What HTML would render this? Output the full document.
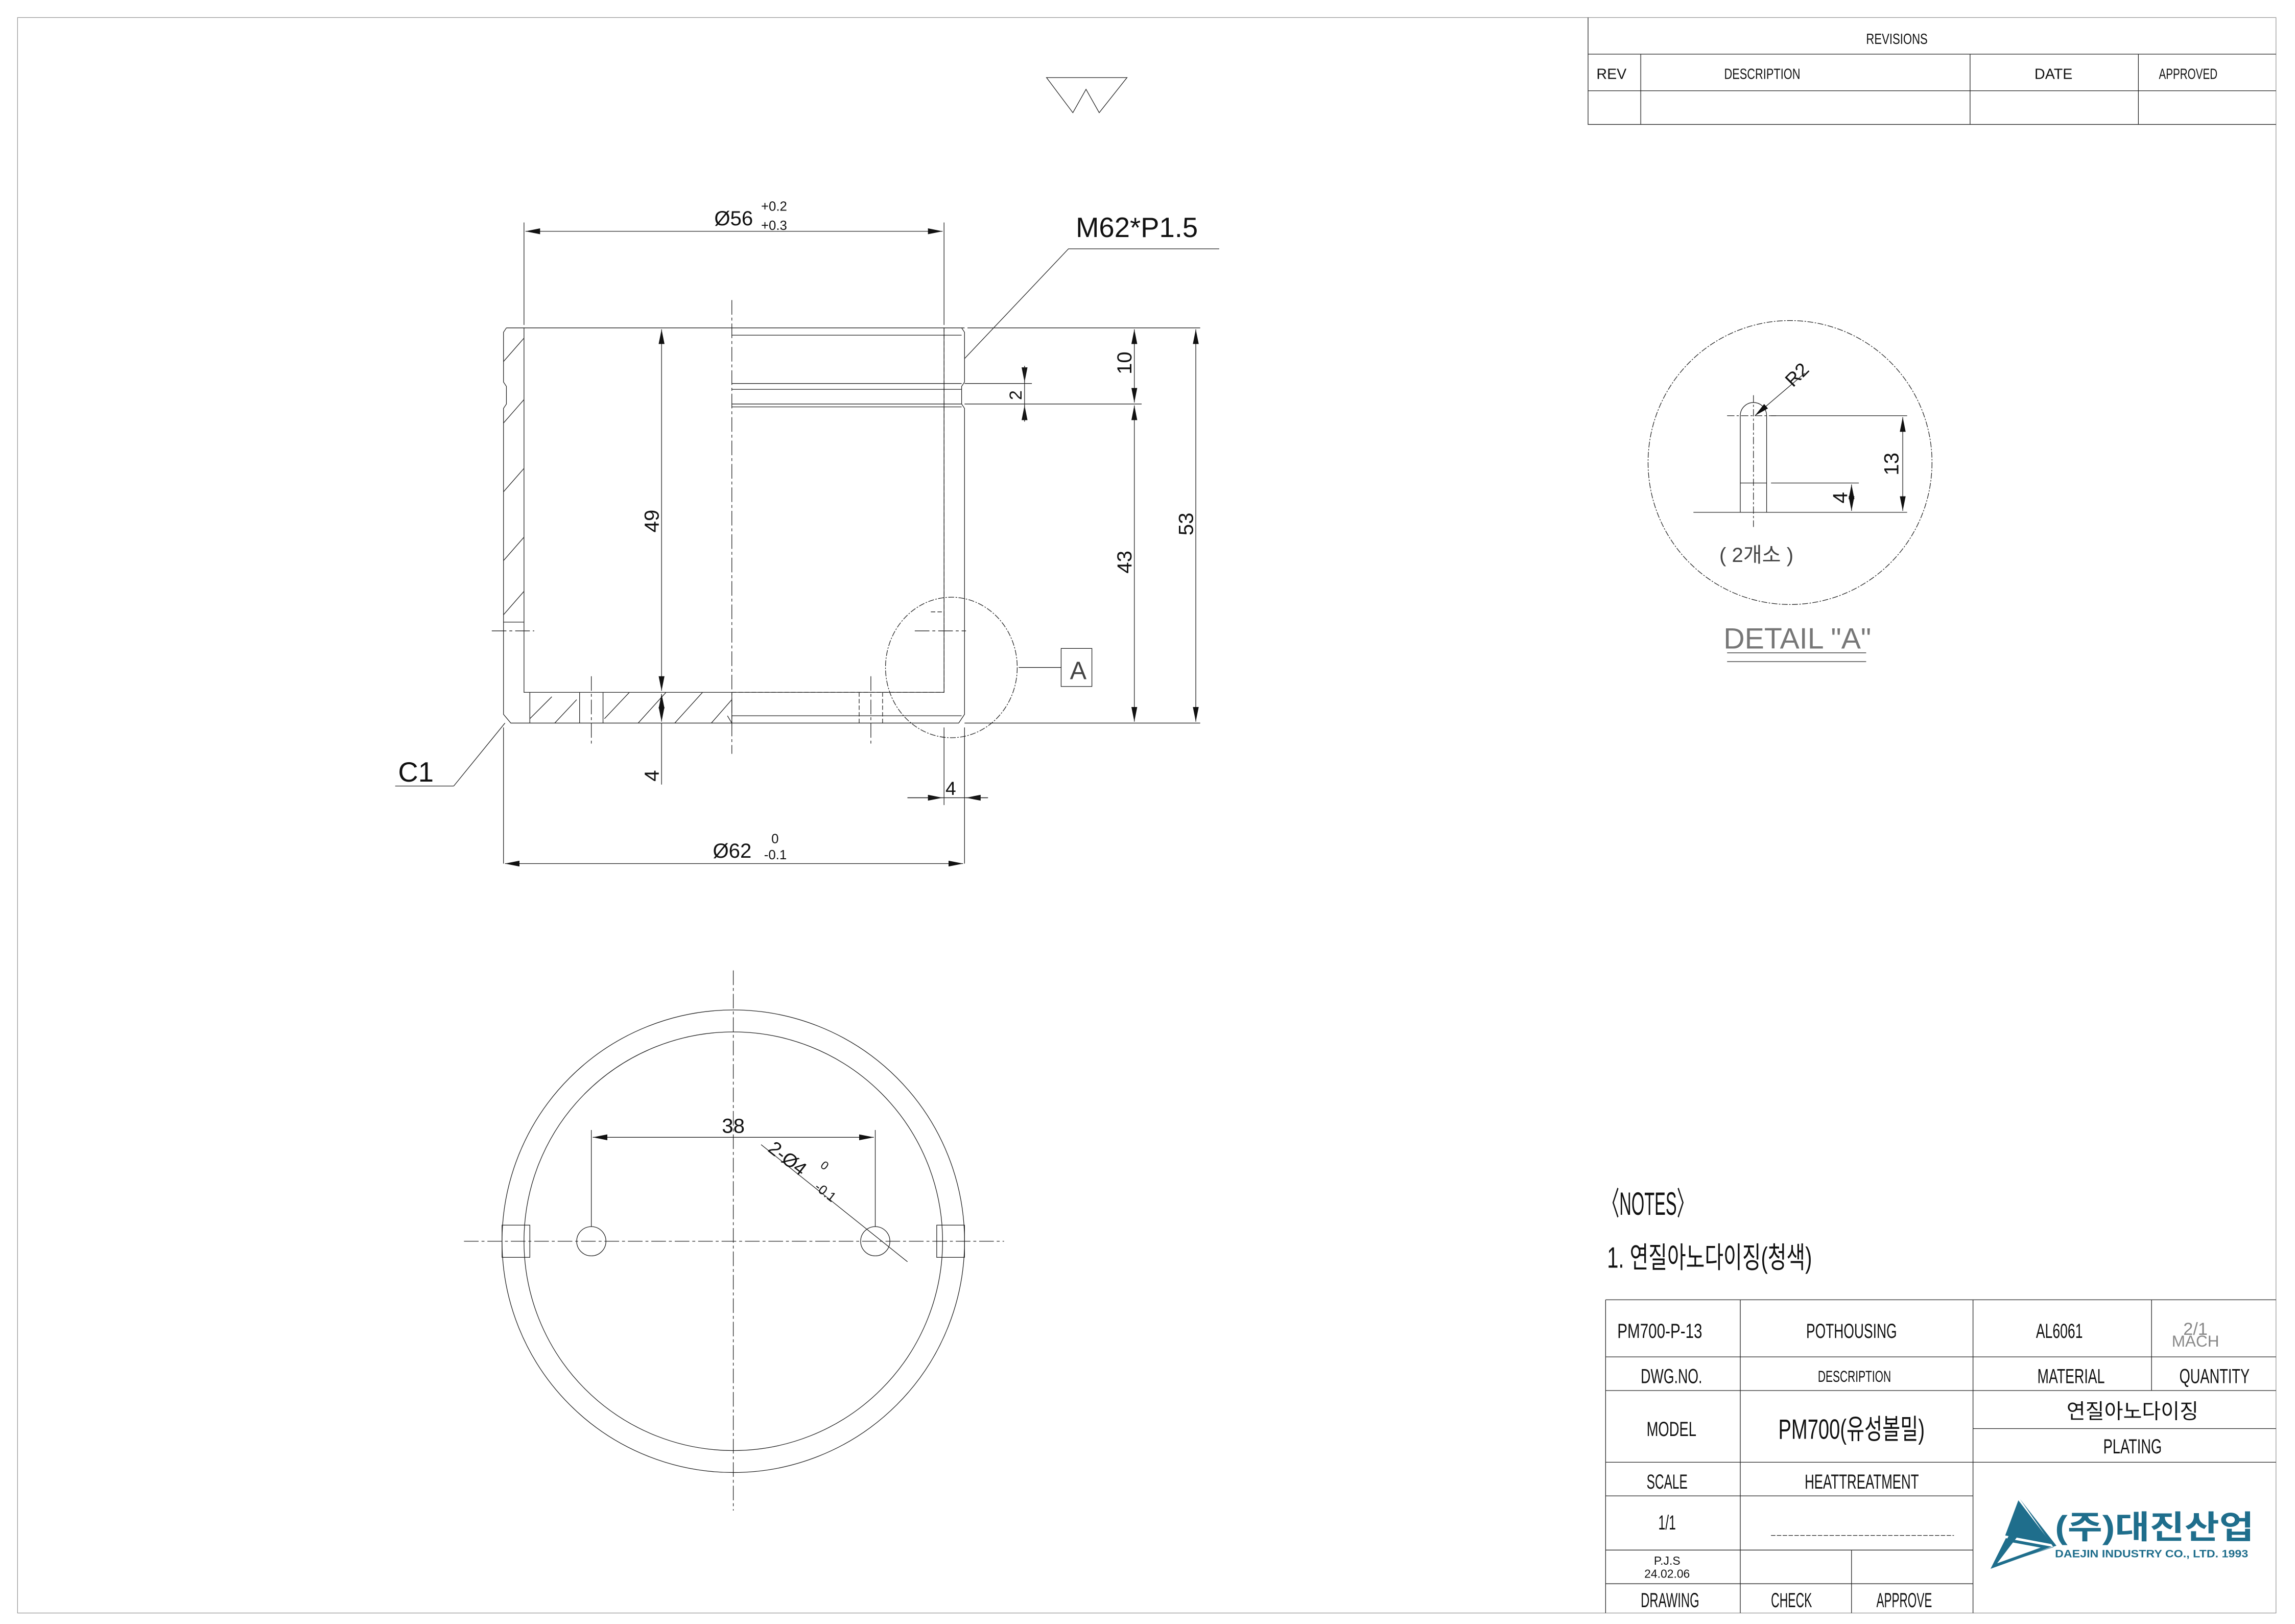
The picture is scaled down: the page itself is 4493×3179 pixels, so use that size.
<!DOCTYPE html>
<html><head><meta charset="utf-8"><style>html,body{margin:0;padding:0;background:#fff}svg{display:block}</style></head><body>
<svg xmlns="http://www.w3.org/2000/svg" width="4493" height="3179" viewBox="0 0 1568 1109.5" preserveAspectRatio="none" font-family="'Liberation Sans','Noto Sans CJK KR',sans-serif">
<defs>
<marker id="a" viewBox="0 0 10 4" refX="10" refY="2" markerWidth="10" markerHeight="4" markerUnits="userSpaceOnUse" orient="auto-start-reverse"><path d="M0,0L10,2L0,4z" fill="#111"/></marker>
</defs>
<g fill="none" stroke="#222" stroke-width="0.45">
<rect x="12" y="12" width="1543" height="1090" stroke="#999"/>
<path d="M1085 12V85H1555M1085 37H1555M1085 62H1555M1121 37V85M1346 37V85M1461 37V85"/>
<path d="M715 53H770L751 77L742 61L733 77Z"/>
<path d="M346 224H659M346 224L344 227V261L346 264V276L344 279V488L349 494H655L659 488V279L657 276V264L659 261V227L657 224"/>
<path d="M358 224V473H645V224" />
<path d="M344 425H358M500 229H657M500 262H657M500 266H657M500 276H657M500 278H657M500 489H657M500 494L497 489"/>
<path d="M362 473V494M396 473V494M412 473V494M500 473V494"/>
<path d="M587 473V494M603 473V494M636 418H645V473M645 224V473" stroke-dasharray="3 1.5"/>
<path d="M500 473H645" stroke-dasharray="3 1.5"/>
<path d="M344 247L358 231M344 289L358 273M344 336L358 320M344 383L358 367M344 420L358 404M362 491L377 476M379 494L394 478M413 491L430 473M436 494L455 473M461 494L480 473M486 494L500 478"/>
<path d="M500 205V515M404 462V510M595 462V510M336 431H365M625 431H660M317 848H686M501 663V1032" stroke-dasharray="10 2 2 2"/>
<path d="M358 222V152M645 222V152M659 245L730 170H833M661 224H820M659 262H705M659 276H780M659 494H820M659 497V590M344 497V590M645 497V550M310 537H270M345 494L310 537" />
<path d="M359 158H644" marker-start="url(#a)" marker-end="url(#a)"/>
<path d="M775 225V275" marker-start="url(#a)" marker-end="url(#a)"/>
<path d="M775 277V493" marker-start="url(#a)" marker-end="url(#a)"/>
<path d="M817 225V493" marker-start="url(#a)" marker-end="url(#a)"/>
<path d="M452 225V472" marker-start="url(#a)" marker-end="url(#a)"/>
<path d="M452 474V493" marker-start="url(#a)" marker-end="url(#a)"/>
<path d="M452 494V536"/>
<path d="M700 250V261" marker-end="url(#a)"/><path d="M700 288V277" marker-end="url(#a)"/><path d="M700 250V288"/>
<path d="M620 545H644" marker-end="url(#a)"/><path d="M675 545H660" marker-end="url(#a)"/><path d="M620 545H675"/>
<path d="M345 590H658" marker-start="url(#a)" marker-end="url(#a)"/>
<ellipse cx="650" cy="456" rx="45" ry="48" stroke-dasharray="4 1 1 1"/>
<path d="M696 456H725"/><rect x="725" y="443" width="21" height="26"/>
<circle cx="501" cy="848" r="158"/><circle cx="501" cy="848" r="143"/>
<circle cx="404" cy="848" r="10"/><circle cx="598" cy="848" r="10"/>
<rect x="343" y="837" width="19" height="22"/><rect x="640" y="837" width="19" height="22"/>
<path d="M404 838V772M598 838V772"/>
<path d="M405 777H597" marker-start="url(#a)" marker-end="url(#a)"/>
<path d="M520 782L620 862"/>
<circle cx="1223" cy="316" r="97" stroke-dasharray="4 1 1 1"/>
<path d="M1189 350V284A9 9 0 0 1 1207 284V350M1189 330H1207M1210 330H1270M1210 284H1303M1157 350H1303"/>
<path d="M1198 270V360M1180 284H1215" stroke-dasharray="5 1.5 1.5 1.5"/>
<path d="M1233 255L1199 284" marker-end="url(#a)"/>
<path d="M1300 285V349" marker-start="url(#a)" marker-end="url(#a)"/>
<path d="M1265 331V349" marker-start="url(#a)" marker-end="url(#a)"/>
<path d="M1180 446H1275M1180 452H1275"/>
<path d="M1097 888H1555M1097 927H1555M1097 950H1555M1348 976H1555M1097 999H1555M1097 1022H1348M1097 1059H1348M1097 1082H1348M1097 888V1102M1189 888V1102M1348 888V1102M1470 888V950M1265 1059V1102"/>
<path d="M1210 1049H1335" stroke-dasharray="3 1"/>
</g>
<g fill="#111" font-size="15">
<text x="1296" y="30" font-size="10" text-anchor="middle" textLength="42" lengthAdjust="spacingAndGlyphs">REVISIONS</text>
<text x="1101" y="54" font-size="10" text-anchor="middle">REV</text>
<text x="1204" y="54" font-size="10" text-anchor="middle" textLength="52" lengthAdjust="spacingAndGlyphs">DESCRIPTION</text>
<text x="1403" y="54" font-size="10" text-anchor="middle">DATE</text>
<text x="1495" y="54" font-size="10" text-anchor="middle" textLength="40" lengthAdjust="spacingAndGlyphs">APPROVED</text>
<text x="488" y="154" font-size="14">Ø56</text>
<text x="520" y="144" font-size="9">+0.2</text><text x="520" y="157" font-size="9">+0.3</text>
<text x="735" y="162" font-size="19">M62*P1.5</text>
<text x="272" y="534" font-size="19">C1</text>
<text x="487" y="586" font-size="14">Ø62</text>
<text x="527" y="576" font-size="9">0</text><text x="522" y="587" font-size="9">-0.1</text>
<text x="646" y="543" font-size="13">4</text>
<text x="731" y="464" font-size="17" fill="#444">A</text>
<text transform="translate(450,356) rotate(-90)" font-size="14" text-anchor="middle">49</text>
<text transform="translate(450,530) rotate(-90)" font-size="14" text-anchor="middle">4</text>
<text transform="translate(773,248) rotate(-90)" font-size="14" text-anchor="middle">10</text>
<text transform="translate(773,384) rotate(-90)" font-size="14" text-anchor="middle">43</text>
<text transform="translate(815,358) rotate(-90)" font-size="14" text-anchor="middle">53</text>
<text transform="translate(698,270) rotate(-90)" font-size="12" text-anchor="middle">2</text>
<text x="501" y="774" font-size="14" text-anchor="middle">38</text>
<text transform="translate(524,786) rotate(38)" font-size="13">2-Ø4</text>
<text transform="translate(560,797) rotate(38)" font-size="8">0</text>
<text transform="translate(556,812) rotate(38)" font-size="9">-0.1</text>
<text transform="translate(1225,265) rotate(-45)" font-size="13">R2</text>
<text transform="translate(1297,317) rotate(-90)" font-size="14" text-anchor="middle">13</text>
<text transform="translate(1262,340) rotate(-90)" font-size="14" text-anchor="middle">4</text>
<text x="1200" y="384" font-size="14" text-anchor="middle" fill="#444">( 2개소 )</text>
<text x="1228" y="443" font-size="20" text-anchor="middle" fill="#777" font-weight="100">DETAIL "A"</text>
<text x="1095" y="830" font-size="22" textLength="62" lengthAdjust="spacingAndGlyphs">〈NOTES〉</text>
<text x="1098" y="866" font-size="20" textLength="140" lengthAdjust="spacingAndGlyphs">1. 연질아노다이징(청색)</text>
<g font-size="14" text-anchor="middle">
<text x="1134" y="914" textLength="58" lengthAdjust="spacingAndGlyphs">PM700-P-13</text>
<text x="1265" y="914" textLength="62" lengthAdjust="spacingAndGlyphs">POTHOUSING</text>
<text x="1407" y="914" textLength="32" lengthAdjust="spacingAndGlyphs">AL6061</text>
<text x="1500" y="912" fill="#888" font-size="12">2/1</text>
<text x="1500" y="920" fill="#888" font-size="11">MACH</text>
<text x="1142" y="945" textLength="42" lengthAdjust="spacingAndGlyphs">DWG.NO.</text>
<text x="1267" y="944" font-size="11" textLength="50" lengthAdjust="spacingAndGlyphs">DESCRIPTION</text>
<text x="1415" y="945" textLength="46" lengthAdjust="spacingAndGlyphs">MATERIAL</text>
<text x="1513" y="945" textLength="48" lengthAdjust="spacingAndGlyphs">QUANTITY</text>
<text x="1142" y="981" textLength="34" lengthAdjust="spacingAndGlyphs">MODEL</text>
<text x="1265" y="983" font-size="19" textLength="100" lengthAdjust="spacingAndGlyphs">PM700(유성볼밀)</text>
<text x="1457" y="969">연질아노다이징</text>
<text x="1457" y="993" textLength="40" lengthAdjust="spacingAndGlyphs">PLATING</text>
<text x="1139" y="1017" textLength="28" lengthAdjust="spacingAndGlyphs">SCALE</text>
<text x="1272" y="1017" textLength="78" lengthAdjust="spacingAndGlyphs">HEATTREATMENT</text>
<text x="1139" y="1045" textLength="12" lengthAdjust="spacingAndGlyphs">1/1</text>
<text x="1139" y="1069" font-size="8">P.J.S</text>
<text x="1139" y="1078" font-size="8">24.02.06</text>
<text x="1141" y="1098" textLength="40" lengthAdjust="spacingAndGlyphs">DRAWING</text>
<text x="1224" y="1098" textLength="28" lengthAdjust="spacingAndGlyphs">CHECK</text>
<text x="1301" y="1098" textLength="38" lengthAdjust="spacingAndGlyphs">APPROVE</text>
</g>
<path d="M1380 1024L1403 1057L1363 1070L1382 1045L1375 1044L1362 1070L1405 1056L1380 1024Z" fill="#1f6e8c"/>
<path d="M1379 1025L1402 1055L1370 1049Z" fill="#1f6e8c"/>
<path d="M1371 1052L1362 1070L1398 1057Z" fill="none" stroke="#1f6e8c" stroke-width="2"/>
<text x="1404" y="1051" font-size="22" font-weight="bold" fill="#1f6e8c" textLength="136" lengthAdjust="spacingAndGlyphs">(주)대진산업</text>
<text x="1404" y="1064" font-size="7.5" font-weight="bold" fill="#1f6e8c" textLength="132" lengthAdjust="spacingAndGlyphs">DAEJIN INDUSTRY CO., LTD. 1993</text>
</g>
</svg>
</body></html>
